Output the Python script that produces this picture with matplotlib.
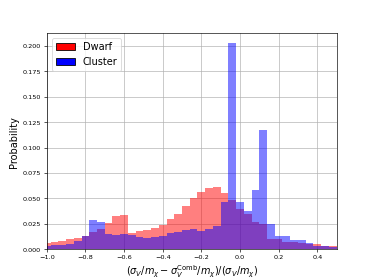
import numpy as np
import matplotlib
matplotlib.use("Agg")
import matplotlib.pyplot as plt
from matplotlib.patches import Patch

# bin edges (width 0.04) and per-bin probabilities
bin_edges = np.round(np.arange(-1.02, 0.5001, 0.04), 2)
dwarf = [0.006, 0.007, 0.008, 0.010, 0.011, 0.013, 0.017, 0.020, 0.026, 0.033,
         0.034, 0.016, 0.018, 0.019, 0.021, 0.024, 0.030, 0.035, 0.042, 0.050,
         0.056, 0.060, 0.061, 0.055, 0.048, 0.040, 0.035, 0.027, 0.025, 0.010,
         0.0096, 0.0073, 0.0066, 0.006, 0.005, 0.0046, 0.0034, 0.0027]
cluster = [0.003, 0.004, 0.004, 0.005, 0.008, 0.013, 0.029, 0.027, 0.015, 0.014,
           0.015, 0.014, 0.012, 0.011, 0.012, 0.013, 0.016, 0.017, 0.019, 0.020,
           0.018, 0.020, 0.023, 0.046, 0.2025, 0.046, 0.0375, 0.0586, 0.117, 0.0244,
           0.0128, 0.0128, 0.0093, 0.0086, 0.006, 0.0033, 0.003, 0.002]
labels = ["Dwarf", "Cluster"]

centers = 0.5 * (bin_edges[:-1] + bin_edges[1:])

fig = plt.figure(figsize=(6.4, 4.8), dpi=374 / 6.4)
ax = fig.add_subplot(111)
ax.hist(centers, bins=bin_edges, weights=dwarf, color="red", alpha=0.5)
ax.hist(centers, bins=bin_edges, weights=cluster, color="blue", alpha=0.5)
ax.set_xlim(-1.0, 0.5)
ax.set_axisbelow(True)
ax.grid(True)
ax.tick_params(labelsize=8)
ax.set_ylabel("Probability", fontsize=12)
ax.set_xlabel(r"$(\sigma_V/m_\chi - \sigma_V^{\mathrm{Comb}}/m_\chi)/(\sigma_V/m_\chi)$", fontsize=12)
handles = [Patch(facecolor="red", edgecolor="black", label=labels[0]),
           Patch(facecolor="blue", edgecolor="black", label=labels[1])]
ax.legend(handles=handles, loc="upper left", fontsize=12)
fig.savefig("out.png", dpi=374 / 6.4)
